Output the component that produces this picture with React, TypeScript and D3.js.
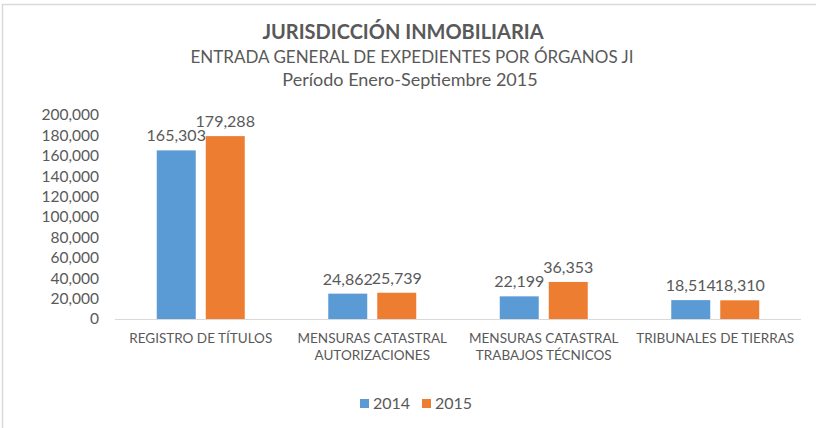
import React from "react";
import * as d3 from "d3";

const categories = [
  ["REGISTRO DE TÍTULOS"],
  ["MENSURAS CATASTRAL", "AUTORIZACIONES"],
  ["MENSURAS CATASTRAL", "TRABAJOS TÉCNICOS"],
  ["TRIBUNALES DE TIERRAS"],
];
const seriesNames = ["2014", "2015"];
const values2014 = [165303, 24862, 22199, 18514];
const values2015 = [179288, 25739, 36353, 18310];
const yTicks = [0, 20000, 40000, 60000, 80000, 100000, 120000, 140000, 160000, 180000, 200000];
const colors = ["#5B9BD5", "#ED7D31"];

const W = 816;
const H = 428;
const FONT = "Lato, 'Open Sans', sans-serif";
const TXT = "#595959";

export default function App() {
  const left = 115;
  const right = 801;
  const top = 115;
  const bottom = 319;
  const x = d3.scaleBand<number>().domain(d3.range(categories.length)).range([left, right]).paddingInner(0).paddingOuter(0);
  const y = d3.scaleLinear().domain([0, 200000]).range([bottom, top]);
  const fmt = d3.format(",");
  const barW = 39;
  const gap = 10;
  const series = [values2014, values2015];

  return (
    <svg width={W} height={H} style={{ position: "absolute", left: 0, top: 0, background: "#fff" }} fontFamily={FONT}>
      <rect x={2.5} y={4.5} width={W + 20} height={H + 20} fill="#fff" stroke="#d9d9d9" strokeWidth={1.5} />
      <text x={403} y={39} textAnchor="middle" fontSize={20} fontWeight="bold" fill={TXT}>JURISDICCIÓN INMOBILIARIA</text>
      <text x={412} y={63} textAnchor="middle" fontSize={17} fill={TXT}>ENTRADA GENERAL DE EXPEDIENTES POR ÓRGANOS JI</text>
      <text x={410} y={86} textAnchor="middle" fontSize={18} fill={TXT}>Período Enero-Septiembre 2015</text>

      {yTicks.map((t) => (
        <text key={t} x={99} y={y(t)} dy="0.35em" textAnchor="end" fontSize={15.5} fill={TXT}>{fmt(t)}</text>
      ))}
      <line x1={left} x2={right} y1={bottom + 0.5} y2={bottom + 0.5} stroke="#d9d9d9" strokeWidth={1} />

      {categories.map((c, i) => {
        const cx = (x(i) as number) + x.bandwidth() / 2;
        return (
          <g key={i}>
            {series.map((vals, s) => {
              const bx = cx + (s === 0 ? -gap / 2 - barW : gap / 2);
              const v = vals[i];
              return (
                <g key={s}>
                  <rect x={bx} y={y(v)} width={barW} height={bottom - y(v)} fill={colors[s]} />
                  <text x={bx + barW / 2} y={y(v) - 9} textAnchor="middle" fontSize={16} fill={TXT}>{fmt(v)}</text>
                </g>
              );
            })}
            {c.map((line, k) => (
              <text key={k} x={cx} y={343 + k * 17} textAnchor="middle" fontSize={13.5} fill={TXT}>{line}</text>
            ))}
          </g>
        );
      })}

      {seriesNames.map((n, s) => (
        <g key={n} transform={`translate(${360 + s * 62},399)`}>
          <rect x={0} y={0} width={9} height={9} fill={colors[s]} />
          <text x={13} y={10} fontSize={16} fill={TXT}>{n}</text>
        </g>
      ))}
    </svg>
  );
}
